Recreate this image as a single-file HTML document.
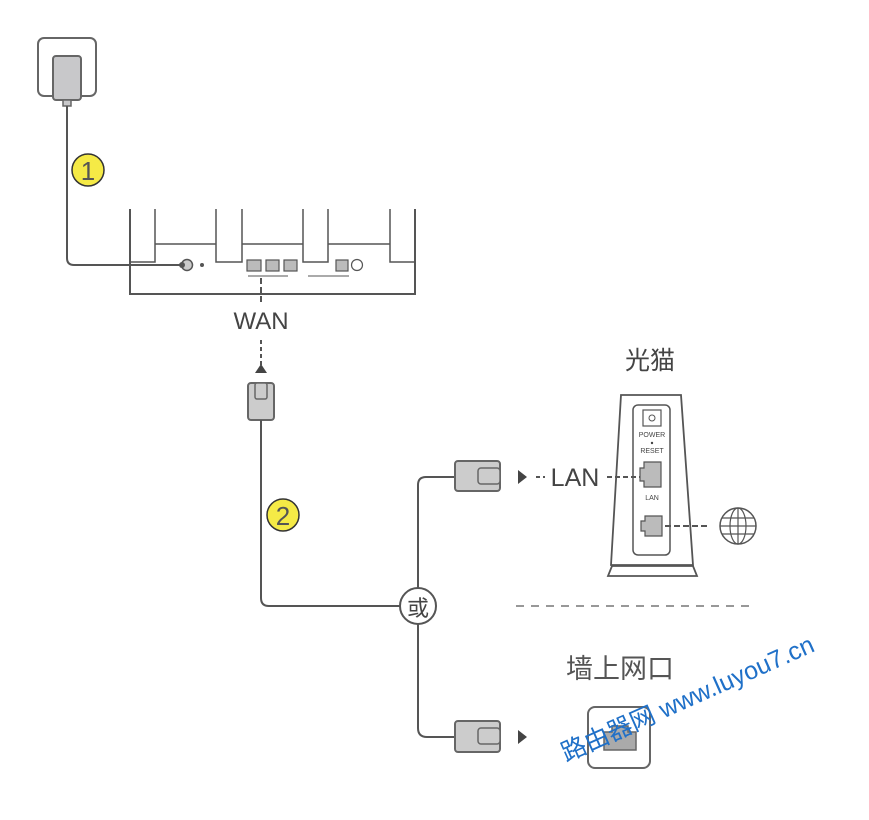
<!DOCTYPE html>
<html><head><meta charset="utf-8"><style>
html,body{margin:0;padding:0;background:#fff}
svg{display:block}
</style></head><body>
<svg width="869" height="820" viewBox="0 0 869 820" xmlns="http://www.w3.org/2000/svg" font-family="Liberation Sans, Noto Sans CJK SC, sans-serif">
<g fill="none" stroke="#555" stroke-width="2">
<rect x="38" y="38" width="58" height="58" rx="6" stroke="#666"/>
<rect x="53" y="56" width="28" height="44" rx="3" fill="#c8c8ca" stroke="#666"/>
<rect x="63" y="100" width="8" height="6" fill="#c8c8ca" stroke="#666" stroke-width="1.5"/>
<path d="M67 106 V258 Q67 265 74 265 H183" stroke="#555"/>
<path d="M130 209 V294 H415 V209"/>
<path d="M155 209 V262 H130 M155 244 H216 M216 209 V262 H242 V209 M242 244 H303 M303 209 V262 H328 V209 M328 244 H390 M390 209 V262 H415" stroke-width="1.5"/>
<circle cx="187" cy="265" r="5.5" fill="#ccc" stroke-width="1.5"/>
<circle cx="182" cy="265" r="3" fill="#555" stroke="none"/>
<circle cx="202" cy="265" r="2" fill="#555" stroke="none"/>
<rect x="247" y="260" width="14" height="11" fill="#bbb" stroke-width="1.2"/>
<rect x="266" y="260" width="13" height="11" fill="#bbb" stroke-width="1.2"/>
<rect x="284" y="260" width="13" height="11" fill="#bbb" stroke-width="1.2"/>
<rect x="336" y="260" width="12" height="11" fill="#bbb" stroke-width="1.2"/>
<circle cx="357" cy="265" r="5.5" stroke-width="1.2"/>
<path d="M248 276 H288 M308 276 H349" stroke-width="1"/>
<path d="M261 278 V302" stroke-dasharray="6 3"/>
<path d="M261 340 V365" stroke-dasharray="4 3"/>
<rect x="248" y="383" width="26" height="37" rx="3" fill="#ccc" stroke="#666"/>
<rect x="255" y="383" width="12" height="16" rx="2" fill="#ccc" stroke="#666" stroke-width="1.5"/>
<path d="M261 420 V598 Q261 606 269 606 H400" stroke="#555"/>
<circle cx="418" cy="606" r="18" stroke="#555"/>
<path d="M418 588 V485 Q418 477 426 477 H455"/>
<path d="M418 624 V728 Q418 737 427 737 H455"/>
<rect x="455" y="461" width="45" height="30" rx="3" fill="#ccc" stroke="#666"/>
<rect x="478" y="468" width="22" height="16" rx="3" fill="#ccc" stroke="#666" stroke-width="1.5"/>
<rect x="455" y="721" width="45" height="31" rx="3" fill="#ccc" stroke="#666"/>
<rect x="478" y="728" width="22" height="16" rx="3" fill="#ccc" stroke="#666" stroke-width="1.5"/>
<path d="M536 477 H545" stroke-dasharray="4 3"/>
<path d="M607 477 H640" stroke-dasharray="5 3"/>
<path d="M621 395 H681 L693 565 H611 Z" stroke-width="1.8"/>
<path d="M608 576 L612 566 H693 L697 576 Z" stroke-width="1.8"/>
<rect x="633" y="405" width="37" height="150" rx="5" stroke-width="1.5"/>
<rect x="643" y="410" width="18" height="16" stroke-width="1.2"/>
<circle cx="652" cy="418" r="3" stroke-width="1"/>
<path d="M644 462 H661 V487 H644 V481 H640 V468 H644 Z" fill="#bbb" stroke-width="1.2"/>
<path d="M645 516 H662 V536 H645 V531 H641 V521 H645 Z" fill="#bbb" stroke-width="1.2"/>
<path d="M665 526 H710" stroke-dasharray="6 3"/>
<circle cx="738" cy="526" r="18" stroke-width="1.5"/>
<ellipse cx="738" cy="526" rx="8" ry="18" stroke-width="1.2"/>
<path d="M738 508 V544 M720 526 H756 M722 518 H754 M722 534 H754" stroke-width="1.2"/>
<path d="M516 606 H756" stroke="#777" stroke-width="1.5" stroke-dasharray="8 7"/>
<rect x="588" y="707" width="62" height="61" rx="7" stroke="#666"/>
<path d="M604 732 H612 V726 H628 V732 H636 V750 H604 Z" fill="#aaa" stroke="#666" stroke-width="1.5"/>
</g>
<polygon points="255,373 267,373 261,364" fill="#444"/>
<polygon points="518,470 518,484 527,477" fill="#444"/>
<polygon points="518,730 518,744 527,737" fill="#444"/>
<circle cx="88" cy="170" r="16" fill="#f5ea46" stroke="#333" stroke-width="1.5"/>
<text x="88" y="180" font-size="26" text-anchor="middle" fill="#555">1</text>
<circle cx="283" cy="515" r="16" fill="#f5ea46" stroke="#333" stroke-width="1.5"/>
<text x="283" y="525" font-size="26" text-anchor="middle" fill="#555">2</text>
<text x="261" y="329" font-size="24" text-anchor="middle" fill="#444">WAN</text>
<text x="575" y="486" font-size="25" text-anchor="middle" fill="#444">LAN</text>
<text x="418" y="616" font-size="22" text-anchor="middle" fill="#444">或</text>
<text x="650" y="369" font-size="25" text-anchor="middle" fill="#444">光猫</text>
<text x="620" y="678" font-size="27" text-anchor="middle" fill="#555">墙上网口</text>
<text x="652" y="437" font-size="7" text-anchor="middle" fill="#444">POWER</text>
<circle cx="652" cy="443" r="1.2" fill="#444"/>
<text x="652" y="453" font-size="7" text-anchor="middle" fill="#444">RESET</text>
<text x="652" y="500" font-size="7" text-anchor="middle" fill="#444">LAN</text>
<text x="0" y="0" font-size="25" fill="#1f70c8" transform="translate(566,762) rotate(-24)">路由器网 www.luyou7.cn</text>
</svg>
</body></html>
